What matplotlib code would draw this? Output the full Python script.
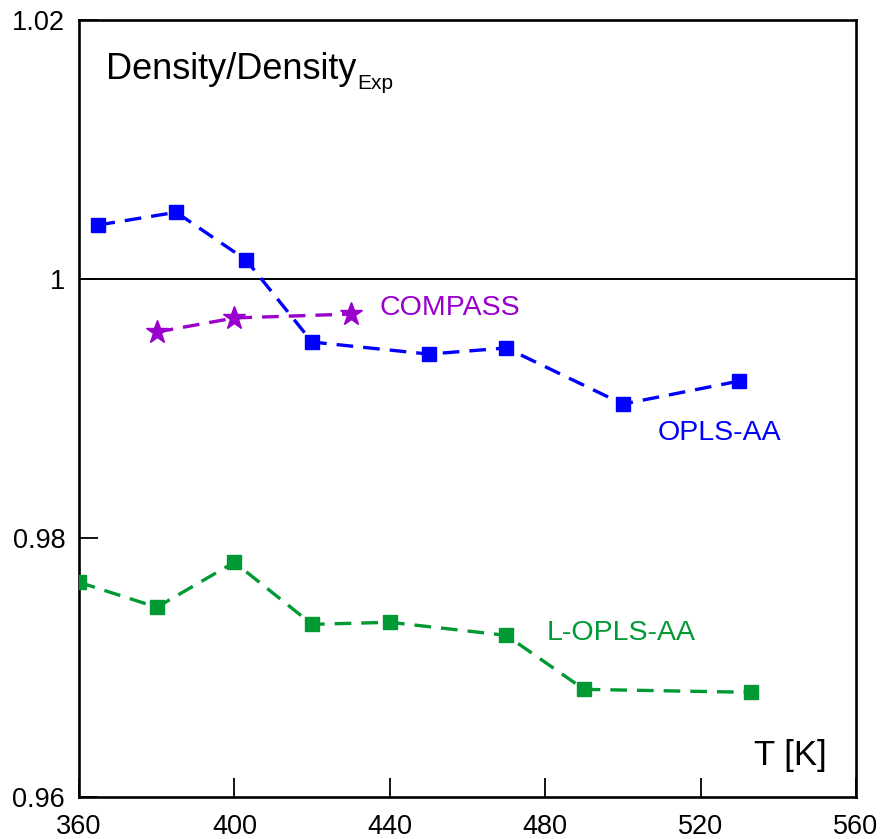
import matplotlib
matplotlib.use("Agg")
import matplotlib.pyplot as plt

plt.rcParams["font.family"] = ["Liberation Sans", "DejaVu Sans"]

# OPLS-AA
opls_T = [365, 385, 403, 420, 450, 470, 500, 530]
opls_rho = [1.00417, 1.00515, 1.00147, 0.99513, 0.99420, 0.99467, 0.99034, 0.99212]

# COMPASS
compass_T = [380, 400, 430]
compass_rho = [0.99590, 0.99699, 0.99729]

# L-OPLS-AA
lopls_T = [360, 380, 400, 420, 440, 470, 490, 533]
lopls_rho = [0.97658, 0.97465, 0.97812, 0.97333, 0.97349, 0.97248, 0.96831, 0.96808]

x_ticks = [360, 400, 440, 480, 520, 560]
y_ticks = [0.96, 0.98, 1.0, 1.02]
y_labels = ["0.96", "0.98", "1", "1.02"]

blue = "#0000ff"
purple = "#9900cc"
green = "#009933"

fig = plt.figure(figsize=(8.83, 8.39), dpi=100)
ax = fig.add_axes([0.0895, 0.0501, 0.8799, 0.9261])

ax.axhline(1.0, color="black", lw=1.4, zorder=1)

dash = (0, (5, 3))
ax.plot(opls_T, opls_rho, color=blue, ls=dash, lw=2.4, marker="s", ms=9.5, zorder=3)
ax.plot(compass_T, compass_rho, color=purple, ls=dash, lw=2.4, marker="*", ms=17, zorder=3)
ax.plot(lopls_T, lopls_rho, color=green, ls=dash, lw=2.4, marker="s", ms=9.5, zorder=3)

# series labels
ax.text(437.4, 0.99776, "COMPASS", color=purple, fontsize=20.5, va="center", ha="left")
ax.text(508.9, 0.98810, "OPLS-AA", color=blue, fontsize=20.5, va="center", ha="left")
ax.text(480.4, 0.97268, "L-OPLS-AA", color=green, fontsize=20.5, va="center", ha="left")

title = ax.text(0.035, 0.924, "Density/Density", transform=ax.transAxes,
                fontsize=26, va="baseline", ha="left")
ax.annotate("Exp", xy=(1, 0), xycoords=title, xytext=(0.5, -1.5),
            textcoords="offset points", fontsize=15, va="baseline", ha="left")

ax.text(0.9625, 0.0534, "T [K]", transform=ax.transAxes,
        fontsize=25, va="center", ha="right")

ax.set_xlim(360, 560)
ax.set_ylim(0.96, 1.02)
ax.set_xticks(x_ticks)
ax.set_yticks(y_ticks)
ax.set_yticklabels(y_labels)
ax.tick_params(direction="in", length=14, width=1.3, labelsize=19.5, pad=10)
ax.tick_params(axis="x", pad=12)

for s in ax.spines.values():
    s.set_linewidth(1.9)

fig.savefig("out.png", dpi=100)
